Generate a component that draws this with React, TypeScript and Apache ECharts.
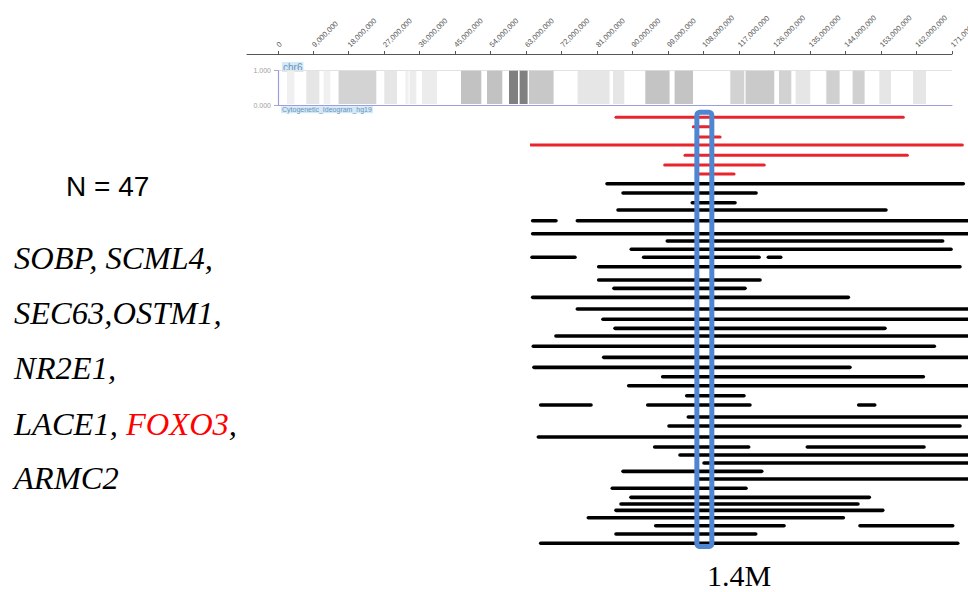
import React, { useEffect, useRef } from "react";
import * as echarts from "echarts";

// ---- top genome axis (chr6, base pairs) ----
const tickValues = [
  0, 9000000, 18000000, 27000000, 36000000, 45000000, 54000000, 63000000,
  72000000, 81000000, 90000000, 99000000, 108000000, 117000000, 126000000,
  135000000, 144000000, 153000000, 162000000, 171000000,
];

// ---- cytogenetic ideogram bands (Mb) ----
const bandStartMb = [2.28, 7.18, 11.57, 15.37, 26.97, 32.3, 33.4, 36.53, 46.43, 53.02, 58.61, 61.3, 63.68, 76.01, 84.99, 93.19, 100.62, 114.75, 118.63, 127.11, 131.32, 139.11, 145.78, 152.55, 161.1];
const bandEndMb = [4.14, 10.48, 13.27, 24.94, 30.19, 33.13, 35.1, 40.34, 51.58, 56.91, 60.89, 63.33, 69.92, 84.13, 87.86, 99.35, 105.29, 118.3, 125.91, 130.23, 135.05, 142.49, 148.83, 155.52, 164.4];
const bandShade = ["#f0f0f0", "#e6e6e6", "#f0f0f0", "#d3d3d3", "#e6e6e6", "#f0f0f0", "#ececec", "#ececec", "#c2c2c2", "#c2c2c2", "#808080", "#808080", "#c8c8c8", "#e6e6e6", "#e6e6e6", "#c4c4c4", "#c4c4c4", "#d2d2d2", "#cacaca", "#d2d2d2", "#e6e6e6", "#d0d0d0", "#d0d0d0", "#e6e6e6", "#e6e6e6"];

// ---- patient segments (zoomed panel, Mb) ----
// vertical track position of each of the 47 samples
const rowPos = [0, 1.02, 2.13, 2.99, 4.1, 5.15, 6.12, 7.17, 8.17, 9.22, 10.01, 11.17, 12.57, 13.36, 14.25, 15.12, 16.13, 17.57, 18.47, 19.44, 20.7, 21.81, 22.79, 23.62, 24.73, 25.92, 27.0, 28.01, 28.99, 30.06, 31.07, 32.37, 33.34, 34.52, 35.6, 36.47, 37.33, 38.23, 39.06, 40.06, 41.04, 41.76, 42.44, 43.24, 44.1, 45.0, 46.0];
const redRows = 7; // first rows drawn in red
const segRow = [0, 1, 2, 3, 4, 5, 6, 7, 8, 9, 10, 11, 11, 12, 13, 14, 15, 15, 15, 16, 17, 18, 19, 20, 21, 22, 23, 24, 25, 26, 27, 28, 29, 30, 30, 30, 31, 32, 33, 34, 34, 35, 36, 37, 38, 39, 40, 41, 42, 43, 44, 44, 45, 46];
const segStart = [100.05, 107.29, 107.85, 92.07, 106.51, 104.61, 107.85, 99.21, 100.71, 107.19, 100.24, 92.25, 96.43, 92.25, 104.85, 101.48, 92.19, 102.64, 114.31, 98.43, 98.43, 99.86, 92.25, 96.43, 98.83, 99.96, 94.43, 92.31, 98.9, 92.37, 104.42, 101.24, 106.67, 93.0, 103.02, 122.77, 106.82, 105.01, 92.78, 103.67, 117.96, 106.04, 108.29, 100.71, 107.63, 99.7, 101.45, 100.52, 100.05, 97.46, 103.77, 122.89, 100.05, 93.0];
const segEnd = [126.94, 108.85, 109.79, 132.47, 127.32, 113.93, 111.1, 132.56, 113.16, 111.19, 125.32, 94.43, 134, 134, 130.63, 131.41, 96.21, 113.44, 115.47, 132.25, 113.53, 112.13, 121.8, 134, 134, 125.23, 134, 129.85, 134, 121.95, 128.82, 134, 112.03, 97.71, 112.59, 124.27, 134, 132.25, 134, 112.47, 128.88, 134, 134, 113.69, 134, 112.22, 123.76, 122.7, 125.02, 121.33, 115.78, 131.57, 113.13, 132.04];

// minimal region (1.4 Mb) box
const regionStartMb = 107.62;
const regionEndMb = 109.02;
const regionLabel = "1.4M";

const geneLines = ["SOBP, SCML4,", "SEC63,OSTM1,", "NR2E1,"];
const highlightGene = "FOXO3";

export default function App() {
  const ref = useRef<HTMLDivElement>(null);
  useEffect(() => {
    document.body.style.margin = "0";
    const chart = echarts.init(ref.current!, undefined, { renderer: "svg" });

    const bandData = bandStartMb.map((s, i) => [s, bandEndMb[i], i]);
    const segData = segRow.map((r, i) => [rowPos[r], segStart[i], segEnd[i], r < redRows ? 1 : 0]);

    const serif = "'Liberation Serif', 'Times New Roman', serif";
    const sans = "'Liberation Sans', Arial, sans-serif";
    const geneStyle = { fontFamily: serif, fontStyle: "italic", fontSize: 32.5, fill: "#000", color: "#000" };

    const graphics: any[] = [
      { type: "text", x: 66, y: 186, style: { text: "N = 47", fontFamily: sans, fontSize: 28, fill: "#000", textVerticalAlign: "middle" } },
      ...geneLines.map((t, i) => ({
        type: "text", x: 14, y: 258 + i * 55,
        style: { text: t, ...geneStyle, textVerticalAlign: "middle" },
      })),
      {
        type: "text", x: 14, y: 424,
        style: {
          text: "{b|LACE1, }{r|" + highlightGene + "}{b|,}",
          textVerticalAlign: "middle",
          rich: {
            b: { ...geneStyle },
            r: { ...geneStyle, fill: "#ff0000", color: "#ff0000" },
          },
        },
      },
      { type: "text", x: 14, y: 478, style: { text: "ARMC2", ...geneStyle, textVerticalAlign: "middle" } },
      { type: "text", x: 707, y: 575, style: { text: regionLabel, fontFamily: serif, fontSize: 30, fill: "#000", textVerticalAlign: "middle" } },
      { type: "text", x: 282, y: 67, style: { text: "chr6", fontFamily: sans, fontSize: 10, fill: "#6b93b8", backgroundColor: "#d3e9f8", padding: [0, 1], textVerticalAlign: "middle" } },
      { type: "text", x: 281, y: 109.8, style: { text: "Cytogenetic_Ideogram_hg19", fontFamily: sans, fontSize: 7, fill: "#6b93b8", backgroundColor: "#d3e9f8", padding: [0, 1], textVerticalAlign: "middle" } },
    ];

    chart.setOption({
      animation: false,
      grid: [
        { left: 247, right: 16, top: 53, height: 1, outerBoundsMode: "none", containLabel: false },
        { left: 278, right: 16, top: 70.7, height: 34.3, outerBoundsMode: "none", containLabel: false },
        { left: 530, right: 0, top: 108.04, bottom: 39.44, outerBoundsMode: "none", containLabel: false },
      ],
      xAxis: [
        {
          gridIndex: 0, type: "value", position: "top", min: -7800000, max: 171000000,
          axisLine: { show: true, lineStyle: { color: "#555", width: 1 } },
          axisTick: { show: true, length: 3, customValues: tickValues, lineStyle: { color: "#555" } },
          axisLabel: {
            customValues: tickValues, rotate: 45, fontSize: 7.5, color: "#555", margin: 7,
            fontFamily: sans, hideOverlap: false,
            formatter: (v: number) => v.toLocaleString("en-US"),
          },
          splitLine: { show: false },
        },
        {
          gridIndex: 1, type: "value", min: 0, max: 171,
          axisLine: { show: true, lineStyle: { color: "#9c9ce2", width: 1.2 } },
          axisTick: { show: false }, axisLabel: { show: false }, splitLine: { show: false },
        },
        { gridIndex: 2, type: "value", min: 92, max: 133, show: false },
      ],
      yAxis: [
        { gridIndex: 0, type: "value", show: false },
        {
          gridIndex: 1, type: "value", min: 0, max: 1, interval: 1,
          axisLine: { show: true, lineStyle: { color: "#9c9ce2", width: 1.2 } },
          axisTick: { show: true, length: 4, lineStyle: { color: "#a8a8c8" } },
          axisLabel: { fontSize: 7, color: "#a0a0a0", margin: 7, fontFamily: sans, formatter: (v: number) => v.toFixed(3) },
          splitLine: { show: true, lineStyle: { color: "#e2e2e2" } },
        },
        { gridIndex: 2, type: "value", min: -1, max: 47, inverse: true, show: false },
      ],
      graphic: graphics,
      series: [
        {
          type: "custom", xAxisIndex: 1, yAxisIndex: 1, data: bandData,
          encode: { x: [0, 1] },
          renderItem: (params: any, api: any) => {
            const p0 = api.coord([api.value(0), 1]);
            const p1 = api.coord([api.value(1), 0]);
            return {
              type: "rect",
              shape: { x: p0[0], y: p0[1], width: p1[0] - p0[0], height: p1[1] - p0[1] - 1 },
              style: { fill: bandShade[api.value(2)] },
            };
          },
        },
        {
          type: "custom", xAxisIndex: 2, yAxisIndex: 2, data: segData, clip: true,
          encode: { x: [1, 2], y: 0 },
          renderItem: (params: any, api: any) => {
            const s = api.coord([api.value(1), api.value(0)]);
            const e = api.coord([api.value(2), api.value(0)]);
            const red = api.value(3) === 1;
            return {
              type: "line",
              shape: { x1: s[0], y1: s[1], x2: e[0], y2: e[1] },
              style: { stroke: red ? "#e8242c" : "#000", lineWidth: red ? 3 : 3.6, lineCap: "round" },
            };
          },
        },
        {
          type: "custom", xAxisIndex: 2, yAxisIndex: 2, z: 5,
          data: [[regionStartMb, regionEndMb, -0.55, 46.35]],
          encode: { x: [0, 1], y: [2, 3] },
          renderItem: (params: any, api: any) => {
            const a = api.coord([api.value(0), api.value(2)]);
            const b = api.coord([api.value(1), api.value(3)]);
            return {
              type: "rect",
              shape: { x: a[0], y: a[1], width: b[0] - a[0], height: b[1] - a[1], r: 3 },
              style: { fill: "none", stroke: "#4f86d2", lineWidth: 5 },
            };
          },
        },
      ],
    });
    return () => chart.dispose();
  }, []);
  return <div ref={ref} style={{ width: 968, height: 592, position: "absolute", left: 0, top: 0 }} />;
}
